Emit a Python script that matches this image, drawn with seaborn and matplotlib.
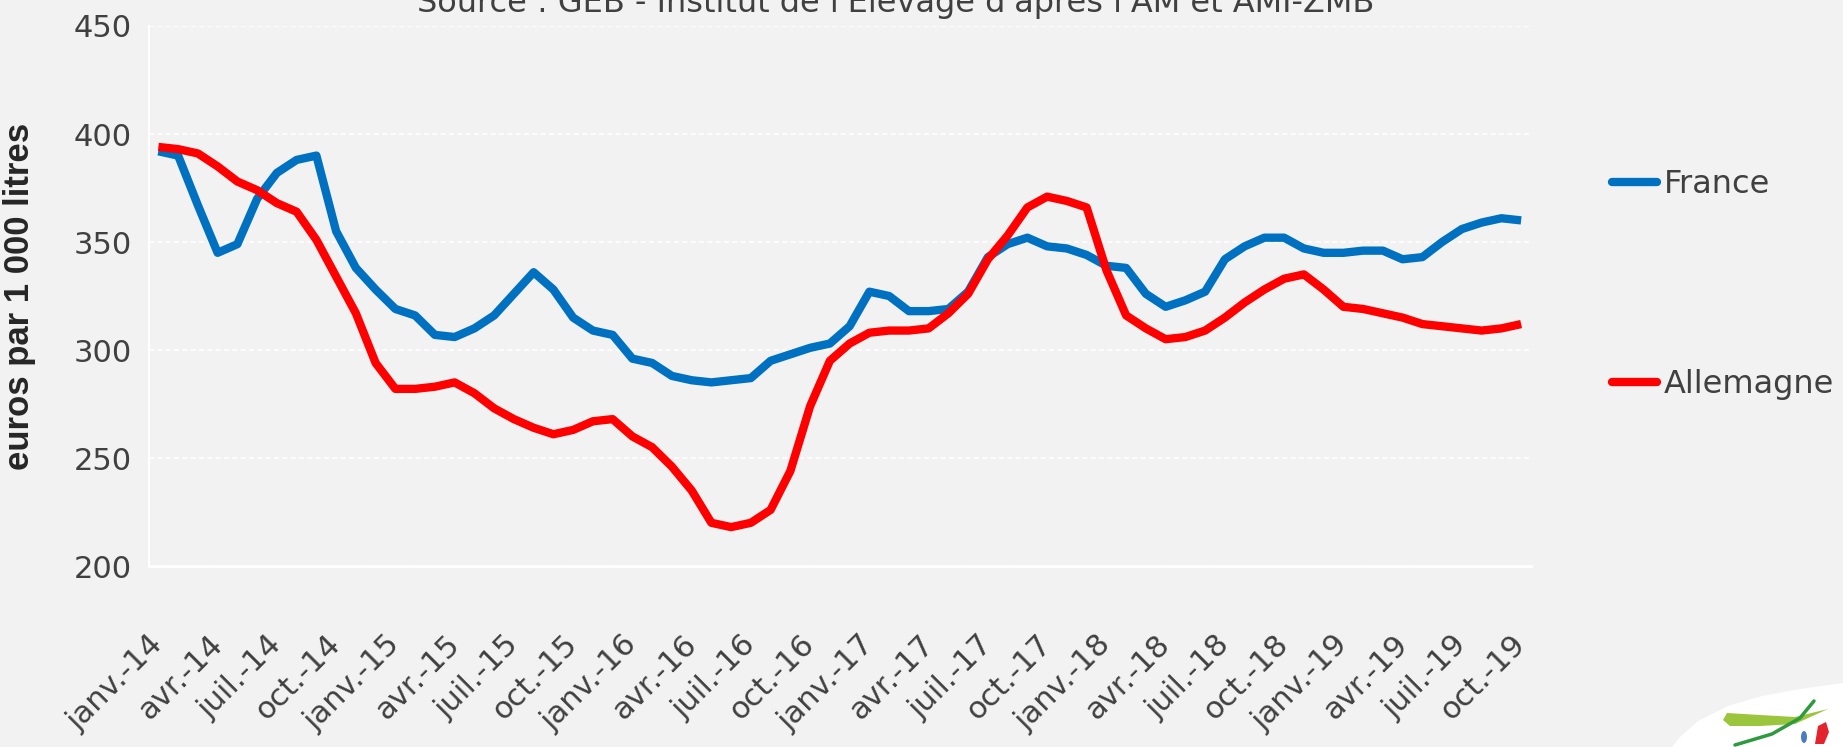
import pandas as pd
import matplotlib
matplotlib.use("Agg")
import matplotlib.pyplot as plt
import seaborn as sns
from matplotlib.patches import Ellipse, Polygon
from matplotlib.lines import Line2D

# monthly milk price, janv. 2014 -> oct. 2019 (euros per 1000 litres)
france = [392, 390, 367, 345, 349, 370, 382, 388, 390, 355, 338, 328,
          319, 316, 307, 306, 310, 316, 326, 336, 328, 315, 309, 307,
          296, 294, 288, 286, 285, 286, 287, 295, 298, 301, 303, 311,
          327, 325, 318, 318, 319, 327, 343, 349, 352, 348, 347, 344,
          339, 338, 326, 320, 323, 327, 342, 348, 352, 352, 347, 345,
          345, 346, 346, 342, 343, 350, 356, 359, 361, 360]
allemagne = [394, 393, 391, 385, 378, 374, 368, 364, 351, 334, 317, 294,
             282, 282, 283, 285, 280, 273, 268, 264, 261, 263, 267, 268,
             260, 255, 246, 235, 220, 218, 220, 226, 244, 274, 295, 303,
             308, 309, 309, 310, 317, 326, 342, 353, 366, 371, 369, 366,
             337, 316, 310, 305, 306, 309, 315, 322, 328, 333, 335, 328,
             320, 319, 317, 315, 312, 311, 310, 309, 310, 312]
tick_labels = ["janv.-14", "avr.-14", "juil.-14", "oct.-14",
               "janv.-15", "avr.-15", "juil.-15", "oct.-15",
               "janv.-16", "avr.-16", "juil.-16", "oct.-16",
               "janv.-17", "avr.-17", "juil.-17", "oct.-17",
               "janv.-18", "avr.-18", "juil.-18", "oct.-18",
               "janv.-19", "avr.-19", "juil.-19", "oct.-19"]
series_names = ["France", "Allemagne"]
colors = {"France": "#0070c0", "Allemagne": "#ff0000"}

n = len(france)
df = pd.DataFrame({
    "mois": list(range(n)) * 2,
    "prix": france + allemagne,
    "pays": ["France"] * n + ["Allemagne"] * n,
})

sns.set_style("white")
plt.rcParams["font.family"] = ["DejaVu Sans"]
bg = "#f2f2f2"
txt = "#404040"

fig = plt.figure(figsize=(18.43, 7.47), dpi=100, facecolor=bg)
ax = fig.add_axes([148.5 / 1843, 1 - 566 / 747, 1382.5 / 1843, 540 / 747])
ax.set_facecolor(bg)

sns.lineplot(data=df, x="mois", y="prix", hue="pays", hue_order=series_names,
             palette=colors, linewidth=6, estimator=None, ax=ax, legend=False,
             solid_joinstyle="round", solid_capstyle="butt")

ax.set_xlim(-0.5, n - 0.5)
ax.set_ylim(200, 450)
ax.set_yticks([200, 250, 300, 350, 400, 450])
ax.grid(axis="y", color="white", linewidth=1.2, linestyle=(0, (3, 2)))
ax.grid(axis="x", visible=False)

# quarter labels at month centres, tick marks at quarter boundaries
ax.set_xticks(list(range(0, n, 3)))
ax.set_xticklabels(tick_labels, rotation=45, ha="right", va="center",
                   rotation_mode="anchor", fontsize=22, color=txt)
ax.set_xticks([i - 0.5 for i in range(0, n, 3)], minor=True)
ax.tick_params(axis="x", which="major", length=0, pad=53)
ax.tick_params(axis="x", which="minor", length=8, width=1.2, color="white",
               direction="out")
ax.tick_params(axis="y", length=0, pad=12, labelsize=22, labelcolor=txt)

for side in ["top", "right"]:
    ax.spines[side].set_visible(False)
ax.spines["left"].set_color("white")
ax.spines["left"].set_linewidth(1.5)
ax.spines["bottom"].set_color("white")
ax.spines["bottom"].set_linewidth(2)

ax.set_xlabel("")
ax.set_ylabel("euros par 1 000 litres", fontsize=25, fontweight="bold",
              color="#262626", family="Liberation Sans")
ax.yaxis.set_label_coords(-0.0814, 0.5)

handles = [Line2D([], [], color=colors[s], linewidth=6) for s in series_names]
fig.legend(handles, series_names, loc="upper left",
           bbox_to_anchor=(1612 / 1843, 1 - 169 / 747), frameon=False,
           fontsize=23, labelcolor=txt, labelspacing=5.3, handlelength=1.41,
           handletextpad=0.2, borderpad=0, borderaxespad=0)

fig.text(896 / 1843, 1 - 12 / 747,
         "Source : GEB - Institut de l'Elevage d'après l'AM et AMI-ZMB",
         ha="center", va="baseline", fontsize=23, color=txt)

# small logo in the bottom right corner (pixel coordinates, origin bottom-left)
fig.add_artist(Polygon([(1672, 0), (1679, 9), (1698, 26), (1728, 41),
                        (1762, 51), (1800, 58), (1843, 64), (1843, 0)],
                       closed=True, transform=None, facecolor="white",
                       edgecolor="none"))
fig.add_artist(Polygon([(1723, 27), (1727, 34), (1760, 32), (1795, 30),
                        (1828, 38), (1795, 23), (1760, 21), (1730, 21)],
                       closed=True, transform=None, facecolor="#9bc53d",
                       edgecolor="none"))
fig.add_artist(Line2D([1735, 1772, 1800, 1814], [2, 13, 29, 46],
                      transform=None, color="#2e9a3e", linewidth=2.5))
fig.add_artist(Polygon([(1815, 3), (1824, 3), (1829, 15), (1826, 25),
                        (1818, 21)], closed=True, transform=None,
                       facecolor="#e3232d", edgecolor="none"))
fig.add_artist(Ellipse((1804, 10), 6, 12, transform=None,
                       facecolor="#4a7cc2", edgecolor="none"))

fig.savefig("out.png", dpi=100, facecolor=bg)
